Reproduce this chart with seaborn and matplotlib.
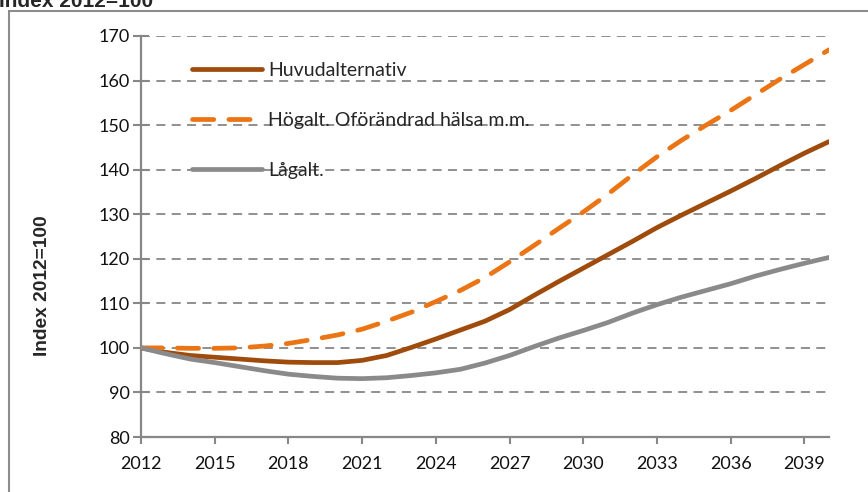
import numpy as np
import pandas as pd
import matplotlib
matplotlib.use("Agg")
import matplotlib.pyplot as plt
import seaborn as sns
from matplotlib.patches import Rectangle

years = list(range(2012, 2041))
huvud = [100, 99.0, 98.3, 97.9, 97.5, 97.1, 96.8, 96.7, 96.7, 97.2, 98.3, 100.1, 102.0,
         104.0, 106.0, 108.6, 111.8, 114.9, 117.9, 120.9, 123.9, 127.0, 129.8, 132.5,
         135.2, 138.0, 140.9, 143.7, 146.3]
hog = [100, 100, 99.9, 99.9, 100.0, 100.4, 101.0, 101.9, 102.9, 104.2, 106.0, 108.0, 110.4,
       112.9, 115.8, 119.3, 123.0, 126.8, 130.5, 134.5, 138.8, 142.9, 146.6, 150.0,
       153.3, 156.8, 160.3, 163.6, 166.9]
lag = [100, 98.7, 97.5, 96.7, 95.8, 94.9, 94.1, 93.6, 93.2, 93.1, 93.3, 93.8, 94.4,
       95.2, 96.6, 98.3, 100.3, 102.2, 103.9, 105.7, 107.8, 109.7, 111.4, 112.9,
       114.4, 116.1, 117.6, 119.0, 120.3]
series_names = ["Huvudalternativ", "Högalt. Oförändrad hälsa m.m.", "Lågalt."]
x_ticks = list(range(2012, 2041, 3))
y_ticks = list(range(80, 171, 10))
axis_label = "Index 2012=100"

sns.set_style("white")
plt.rcParams['font.family'] = ['Lato', 'DejaVu Sans']

df = pd.DataFrame({"year": years * 3,
                   "value": huvud + hog + lag,
                   "serie": [series_names[0]] * len(years) + [series_names[1]] * len(years)
                            + [series_names[2]] * len(years)})

W, H = 868, 492
fig = plt.figure(figsize=(W / 100, H / 100), dpi=100)
ax = fig.add_axes([141 / W, 1 - 437 / H, (829 - 141) / W, (437 - 36) / H])

gcol = "#878787"
for y in y_ticks[1:]:
    ax.axhline(y, color=gcol, lw=1.3, ls=(0, (5, 3.5)), zorder=0)

colors = {series_names[0]: "#9E4B0C", series_names[1]: "#EB7514", series_names[2]: "#8A8A8A"}
styles = {series_names[0]: "-", series_names[1]: (0, (4.5, 3.2)), series_names[2]: "-"}
for name in series_names:
    sub = df[df["serie"] == name]
    sns.lineplot(data=sub, x="year", y="value", ax=ax, color=colors[name],
                 lw=3.4, label=name, zorder=3)
    line = ax.lines[-1]
    line.set_linestyle(styles[name])
    line.set_dash_capstyle("round")
    line.set_solid_capstyle("round")

ax.set_xlim(2012, 2040)
ax.set_ylim(80, 170)
ax.set_xticks(x_ticks)
ax.set_yticks(y_ticks)
ax.set_xlabel("")
ax.set_ylabel(axis_label, fontsize=13.8, fontweight="bold", family="Liberation Sans",
              labelpad=0)
ax.yaxis.set_label_coords((51 - 141) / (829 - 141), (437 - 286) / 401)
for s in ["top", "right"]:
    ax.spines[s].set_visible(False)
for s in ["left", "bottom"]:
    ax.spines[s].set_color(gcol)
    ax.spines[s].set_linewidth(1.6)
ax.tick_params(axis="y", direction="inout", length=12, width=1.5, color=gcol,
               labelsize=13, pad=2, left=True)
ax.tick_params(axis="x", direction="out", length=5, width=1.5, color=gcol,
               labelsize=13, pad=9, bottom=True)
for lab in ax.get_xticklabels() + ax.get_yticklabels():
    lab.set_color("#111111")

leg = ax.legend(loc="upper left", bbox_to_anchor=(51 / 688, 1 - 26 / 401), frameon=False,
                borderaxespad=0, borderpad=0,
                fontsize=14, handlelength=3.6, handletextpad=0.3, labelspacing=1.7)

fig.text(-1 / W, 1 - 7 / H, axis_label, fontsize=15, fontweight="bold",
         family="Liberation Sans", va="baseline", ha="left")
rect = Rectangle((8.5 / W, -0.1), 1.2, 1.1 - 11 / H, transform=fig.transFigure,
                 fill=False, edgecolor="#8c8c8c", lw=1.5, clip_on=False)
fig.patches.append(rect)

fig.savefig("out.png", dpi=100)
